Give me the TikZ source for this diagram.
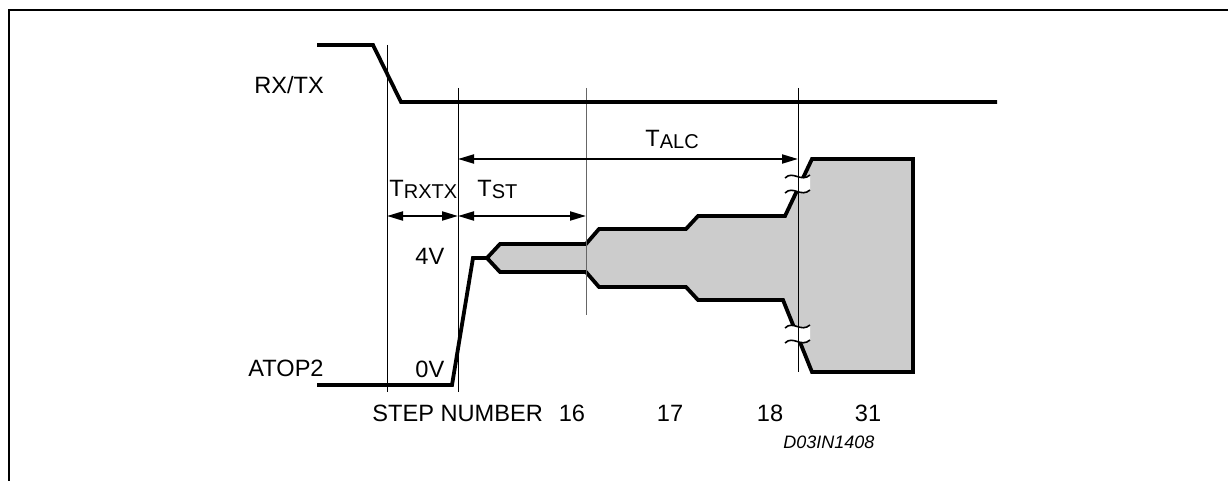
\documentclass[tikz,border=0pt]{standalone}
\usepackage{fontspec}
\setmainfont{Liberation Sans}
\usetikzlibrary{arrows.meta}

\newcommand{\tsub}[1]{\raisebox{-1pt}{\fontsize{10}{11}\selectfont #1}}

\begin{document}
\begin{tikzpicture}[x=0.5pt,y=-0.5pt,font=\fontsize{11.8}{13}\selectfont]
    \tikzstyle{sig}=[line width=1.9pt,line join=miter]
    \tikzstyle{vline}=[line width=0.5pt]
    \tikzstyle{dim}=[line width=1pt,{Triangle[length=8pt,width=4.5pt]}-{Triangle[length=8pt,width=4.5pt]}]
    \tikzstyle{lbl}=[inner sep=0pt,anchor=base west]
    \tikzstyle{num}=[inner sep=0pt,anchor=base]
    \tikzstyle{squig}=[line width=0.8pt]

    \useasboundingbox (0,0) rectangle (1228,481);
    \draw[line width=1pt] (9,481) -- (9,10) -- (1228,10);

    % time markers
    \coordinate (m0t) at (387,45);  \coordinate (m0b) at (387,392);
    \coordinate (m1t) at (458,88);  \coordinate (m1b) at (458,392);
    \coordinate (m2t) at (586,88);  \coordinate (m2b) at (586,315);
    \coordinate (m3t) at (798,88);  \coordinate (m3b) at (798,372);

    % ATOP2 envelope
    \filldraw[sig,fill=black!20]
        (487,258) -- (500,244) -- (586,244) -- (599,229) -- (686,229)
        -- (698,216) -- (785,216) -- (812,159) -- (913,159) -- (913,372)
        -- (812,372) -- (783,300) -- (698,300) -- (686,287) -- (599,287)
        -- (586,272) -- (500,272) -- cycle;

    % breaks
    \fill[white] (785,178) .. controls (793,170) and (801,183) .. (810,175)
        -- (810,190) .. controls (801,198) and (793,185) .. (785,193) -- cycle;
    \fill[white] (785,328) .. controls (793,320) and (801,333) .. (810,325)
        -- (810,340) .. controls (801,348) and (793,335) .. (785,343) -- cycle;

    \draw[vline] (m0t) -- (m0b);
    \draw[vline] (m1t) -- (m1b);
    \draw[vline,black!60] (m2t) -- (m2b);
    \draw[vline] (m3t) -- (m3b);

    \draw[squig] (785,178) .. controls (793,170) and (801,183) .. (810,175);
    \draw[squig] (785,193) .. controls (793,185) and (801,198) .. (810,190);
    \draw[squig] (785,328) .. controls (793,320) and (801,333) .. (810,325);
    \draw[squig] (785,343) .. controls (793,335) and (801,348) .. (810,340);

    % signals
    \draw[sig] (317,45) -- (373,45) -- (401,102) -- (997,102);
    \draw[sig] (317,385) -- (452,385) -- (473,258) -- (487,258);

    % intervals
    \coordinate (a1) at (458,159);  \coordinate (a3) at (798,159);
    \coordinate (b0) at (387,216);  \coordinate (b1) at (458,216);
    \coordinate (b2) at (586,216);
    \draw[dim] (a1) -- (a3);
    \draw[dim] (b0) -- (b1);
    \draw[dim] (b1) -- (b2);

    \node[lbl] (talc) at (645,147) {T\tsub{ALC}};
    \node[lbl] (trxtx) at (389,197) {T\tsub{RXTX}};
    \node[lbl] (tst) at (477,197) {T\tsub{ST}};

    \node[lbl] (rxtx) at (254,94) {RX/TX};
    \node[lbl] (atop) at (248,376) {ATOP2};
    \node[lbl] (v4) at (415,264) {4V};
    \node[lbl] (v0) at (415,378) {0V};
    \node[lbl] (step) at (372,421) {STEP NUMBER};
    \node[num] (s16) at (572,421) {16};
    \node[num] (s17) at (670,421) {17};
    \node[num] (s18) at (770,421) {18};
    \node[num] (s31) at (868,421) {31};
    \node[lbl,font=\fontsize{9}{10}\selectfont\itshape] (code) at (783,448) {D03IN1408};
\end{tikzpicture}
\end{document}
